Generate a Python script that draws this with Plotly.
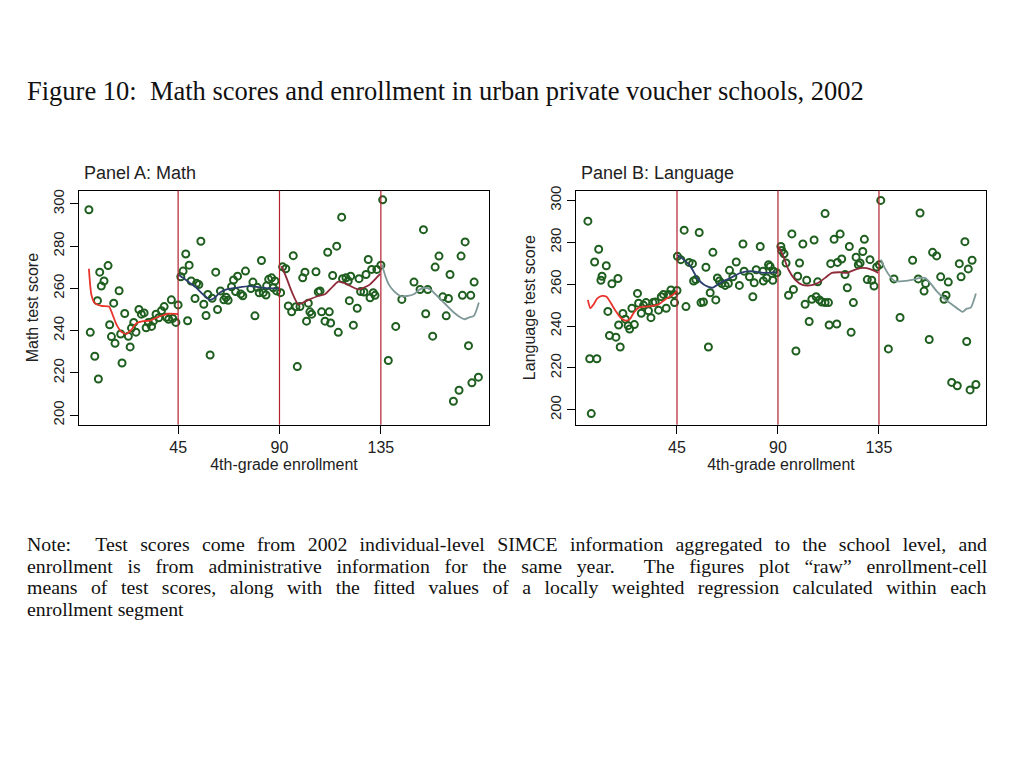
import plotly.graph_objects as go

# ---------------- data ----------------
cutoffs = [45, 90, 135]
x_ticks = [45, 90, 135]
y_ticks = [200, 220, 240, 260, 280, 300]

math_x = [5.4, 6.0, 8.0, 9.2, 9.6, 10.2, 10.9, 12.1, 13.9, 14.6, 15.4, 16.4, 17.0, 18.8, 19.5, 20.1,
          21.3, 22.9, 23.7, 24.3, 25.3, 26.3, 27.6, 28.7, 29.9, 30.8, 31.8, 33.2, 34.0, 35.2, 36.4,
          37.6, 38.8, 39.8, 40.8, 42.0, 42.6, 44.0, 45.0, 46.2, 47.2, 48.4, 49.2, 49.9, 50.8, 52.5,
          53.2, 54.2, 55.1, 56.4, 57.4, 58.2, 59.2, 60.1, 61.7, 62.5, 63.8, 65.3, 66.3, 67.2, 68.7,
          69.6, 70.5, 71.4, 72.8, 73.7, 74.9, 77.3, 78.2, 79.1, 80.1, 81.0, 82.0, 82.8, 84.0, 84.3,
          85.2, 86.5, 87.2, 88.0, 88.7, 90.5, 91.4, 92.8, 93.9, 95.4, 96.1, 97.3, 97.9, 99.1, 100.3,
          101.3, 102.0, 102.8, 103.5, 104.3, 106.2, 107.2, 108.0, 108.7, 110.2, 111.4, 112.1, 112.7,
          113.6, 115.4, 116.1, 117.6, 118.0, 119.5, 120.5, 121.0, 121.6, 122.8, 124.5, 125.3, 126.0,
          127.5, 128.4, 129.4, 130.2, 130.9, 131.6, 132.4, 133.2, 135.0, 135.8, 138.3, 141.6, 144.3,
          149.7, 152.4, 153.9, 154.9, 155.8, 158.0, 159.1, 160.8, 162.5, 164.0, 165.0, 165.7, 167.2,
          169.7, 170.6, 171.2, 172.4, 173.9, 174.9, 175.4, 176.4, 178.3]
math_y = [297.2, 239.2, 227.9, 254.2, 217.1, 267.7, 261.1, 263.5, 270.8, 242.8, 237.2, 253.0, 234.0,
          258.9, 238.4, 224.7, 248.1, 237.3, 232.3, 241.2, 243.9, 239.3, 250.0, 247.8, 248.4, 241.4,
          243.9, 242.0, 244.5, 247.8, 246.1, 249.4, 251.4, 246.3, 245.4, 254.6, 245.8, 243.9, 252.2,
          265.5, 268.2, 276.3, 244.7, 271.0, 263.5, 255.2, 262.4, 261.8, 282.3, 252.5, 247.2, 257.1,
          228.5, 255.3, 267.7, 250.0, 258.8, 254.6, 255.8, 254.4, 260.8, 264.0, 258.5, 265.8, 257.4,
          256.5, 268.2, 259.9, 263.0, 247.0, 260.5, 257.9, 273.2, 258.0, 256.9, 261.2, 264.3, 265.0,
          260.3, 263.5, 258.8, 258.0, 270.2, 269.3, 251.7, 248.9, 275.5, 251.3, 223.0, 251.4, 265.0,
          267.7, 244.5, 253.0, 248.9, 247.8, 267.9, 258.3, 258.8, 248.9, 244.5, 277.1, 248.9, 243.6,
          266.1, 280.0, 239.2, 293.7, 264.6, 265.0, 263.5, 254.2, 265.8, 242.6, 250.6, 264.6, 258.5,
          258.3, 266.6, 273.7, 255.6, 269.0, 258.0, 256.7, 269.0, 271.0, 301.9, 225.9, 242.0, 254.8,
          263.0, 259.5, 287.8, 248.0, 259.5, 237.4, 270.1, 275.3, 256.0, 247.0, 255.2, 266.6, 206.6,
          211.8, 275.3, 256.7, 282.0, 232.9, 256.7, 215.3, 263.0, 218.0]

lang_x = [5.3, 6.1, 6.8, 8.3, 9.3, 10.1, 11.1, 11.6, 13.5, 14.2, 14.9, 16.0, 17.8, 18.7, 19.0, 19.7,
          20.9, 22.0, 23.2, 23.9, 24.9, 26.0, 27.4, 27.9, 29.1, 30.1, 31.2, 32.3, 33.4, 34.3, 35.3,
          36.8, 38.0, 39.0, 40.2, 41.2, 42.3, 43.5, 43.9, 45.0, 45.2, 46.7, 48.2, 49.0, 50.4, 51.9,
          52.4, 53.4, 54.9, 55.7, 56.8, 57.9, 59.0, 59.8, 61.0, 62.3, 63.0, 63.9, 65.0, 66.5, 67.9,
          68.4, 69.9, 71.4, 72.8, 74.4, 74.9, 77.3, 78.8, 79.4, 80.3, 82.1, 83.3, 83.5, 85.0, 85.8,
          86.5, 87.7, 88.0, 89.5, 91.3, 91.7, 92.7, 93.6, 94.7, 96.2, 96.9, 98.0, 98.8, 99.6, 101.1,
          102.1, 102.8, 103.9, 105.1, 106.1, 107.0, 107.7, 108.5, 109.5, 111.0, 111.0, 112.5, 112.8,
          113.5, 115.0, 116.2, 116.5, 117.7, 118.4, 119.9, 120.9, 121.8, 122.6, 123.6, 124.8, 125.8,
          126.6, 127.8, 128.5, 129.8, 131.0, 131.8, 132.8, 134.0, 135.2, 135.8, 139.2, 141.7, 144.4,
          150.0, 152.5, 153.3, 155.1, 155.8, 157.4, 158.9, 160.7, 162.5, 164.0, 164.9, 165.9, 167.4,
          169.9, 170.8, 171.6, 173.3, 174.1, 174.8, 175.6, 176.5, 178.2]
lang_y = [290.1, 224.4, 198.2, 270.6, 224.4, 276.7, 261.9, 263.8, 268.8, 247.0, 235.5, 260.2, 234.7,
          262.7, 240.5, 230.0, 246.0, 243.3, 240.2, 238.6, 248.5, 240.7, 255.6, 250.9, 246.1, 249.9,
          251.2, 247.3, 244.0, 251.2, 251.5, 247.6, 254.0, 255.1, 248.5, 255.1, 257.2, 255.1, 251.2,
          257.0, 273.3, 271.7, 285.8, 249.3, 270.4, 269.8, 261.5, 262.2, 284.7, 251.2, 251.5, 268.1,
          230.0, 255.9, 275.2, 252.5, 263.0, 261.5, 260.3, 259.4, 260.3, 266.6, 263.5, 270.6, 259.4,
          279.2, 266.2, 263.5, 254.0, 260.7, 266.9, 278.0, 266.2, 261.5, 263.0, 269.3, 268.5, 261.9,
          266.2, 265.4, 278.0, 276.1, 274.5, 270.1, 254.7, 284.0, 257.5, 228.1, 263.8, 270.1, 279.2,
          250.4, 261.9, 242.2, 252.8, 281.1, 254.0, 261.1, 252.5, 251.5, 293.7, 251.2, 251.2, 240.5,
          269.8, 281.4, 241.0, 270.4, 284.0, 272.0, 264.6, 258.3, 278.0, 237.0, 251.2, 272.9, 269.3,
          270.1, 275.6, 281.4, 262.2, 271.7, 261.9, 259.1, 268.2, 269.3, 300.0, 229.1, 262.5, 244.1,
          271.4, 262.5, 294.0, 256.7, 260.3, 233.6, 275.2, 273.5, 263.5, 252.8, 254.7, 261.0, 213.1,
          211.5, 269.8, 263.5, 280.3, 232.6, 267.3, 209.5, 271.4, 212.1]

# locally weighted regression fits, one per enrollment segment
math_fit1_x = [5.4, 6.5, 8.0, 10.9, 14.3, 15.4, 17.6, 19.8, 22.0, 24.3, 26.5, 29.5, 32.4, 35.4, 38.4, 40.6, 45.0]
math_fit1_y = [269.3, 257.0, 253.0, 251.7, 251.4, 249.0, 243.0, 239.5, 238.5, 240.5, 243.5, 244.5, 244.7, 246.2, 247.3, 248.0, 247.8]
math_fit2_x = [45.0, 47.2, 50.1, 53.1, 56.1, 59.1, 61.3, 63.5, 66.5, 70.9, 76.8, 82.8, 88.0, 90.0]
math_fit2_y = [266.6, 265.0, 262.7, 260.3, 257.1, 254.6, 255.6, 258.0, 259.5, 260.3, 261.1, 260.3, 260.0, 259.9]
math_fit3_x = [90.9, 93.1, 95.3, 98.3, 100.5, 103.4, 107.2, 110.2, 112.4, 116.1, 119.1, 122.1, 125.0, 127.3, 130.2, 132.4, 134.7]
math_fit3_y = [270.5, 265.0, 258.8, 252.5, 253.3, 254.8, 256.4, 257.2, 259.5, 263.2, 262.4, 260.8, 259.5, 260.3, 261.9, 264.3, 266.9]
math_fit4_x = [135.5, 137.0, 138.5, 140.7, 143.7, 146.6, 149.6, 151.9, 154.8, 157.0, 160.0, 163.7, 167.4, 170.4, 172.1, 174.0, 176.3, 178.5]
math_fit4_y = [271.3, 265.8, 261.9, 258.8, 256.4, 256.4, 257.2, 259.3, 260.3, 259.5, 256.4, 252.5, 248.6, 246.2, 245.4, 246.2, 247.0, 253.3]

lang_fit1_x = [5.3, 6.4, 7.9, 9.4, 11.6, 13.6, 15.4, 17.6, 19.8, 22.1, 24.0, 25.8, 28.0, 31.0, 34.0, 36.9, 39.9, 42.9, 45.0]
lang_fit1_y = [252.5, 248.5, 250.4, 253.1, 254.4, 254.0, 251.2, 247.3, 244.1, 242.6, 243.3, 246.5, 248.8, 249.3, 249.6, 250.4, 252.8, 254.7, 256.7]
lang_fit2_x = [45.0, 48.0, 51.0, 54.0, 56.9, 60.7, 64.4, 68.9, 73.3, 77.8, 83.8, 89.5]
lang_fit2_y = [274.0, 271.7, 268.5, 263.0, 259.8, 258.3, 260.7, 263.0, 265.4, 266.2, 265.4, 265.8]
lang_fit3_x = [90.2, 92.4, 94.7, 97.6, 100.6, 104.3, 108.0, 111.0, 114.0, 117.7, 120.6, 123.6, 126.6, 129.5, 132.5, 134.7]
lang_fit3_y = [278.0, 273.3, 266.9, 262.2, 259.8, 259.4, 260.7, 263.0, 265.4, 265.7, 265.4, 266.6, 267.7, 267.7, 266.6, 265.4]
lang_fit4_x = [135.9, 137.6, 139.9, 142.1, 145.8, 150.3, 153.3, 155.5, 157.7, 160.7, 164.4, 167.4, 170.4, 172.3, 174.1, 175.9, 178.2]
lang_fit4_y = [271.7, 267.7, 263.8, 261.5, 261.5, 262.2, 263.0, 263.0, 260.7, 256.7, 252.8, 250.4, 248.0, 246.8, 248.3, 248.8, 255.6]

title_text = "Figure 10:\u00a0 Math scores and enrollment in urban private voucher schools, 2002"
note_lines = [
    "Note:\u00a0 Test scores come from 2002 individual-level SIMCE information aggregated to the school level, and",
    "enrollment is from administrative information for the same year.\u00a0 The figures plot \u201craw\u201d enrollment-cell",
    "means of test scores, along with the fitted values of a locally weighted regression calculated within each",
    "enrollment segment",
]

# ---------------- styling ----------------
PAGE_OFF = 8          # default body margin of the html page
W, H = 1024 - 2 * PAGE_OFF, 768 - 2 * PAGE_OFF
MARK = "#1e5e1e"
FIT_COLORS = ["#e8342c", "#2c3f6e", "#8e2a3a", "#7f9898"]
VLINE = "#b3202e"
SANS = "Liberation Sans, Arial, sans-serif"
SERIF = "Liberation Serif, Times New Roman, serif"
TXT = "#222"
NOTE_SIZE = 19.8
NOTE_WORD_SPACING = [7.35, 9.8, 8.5, 0.0]   # emulate the justified paragraph


def px_x(p):
    return (p - PAGE_OFF) / W


def px_y(p):
    return 1 - (p - PAGE_OFF) / H


fig = go.Figure()

panels = [
    dict(xa="x", ya="y", xd=[79, 489], xr=[1.0, 183.0], yr=[195.5, 306.3],
         px=math_x, py=math_y,
         fits=[(math_fit1_x, math_fit1_y), (math_fit2_x, math_fit2_y),
               (math_fit3_x, math_fit3_y), (math_fit4_x, math_fit4_y)],
         title="Panel A: Math", ytitle="Math test score"),
    dict(xa="x2", ya="y2", xd=[576, 986], xr=[0.0, 182.7], yr=[192.9, 304.7],
         px=lang_x, py=lang_y,
         fits=[(lang_fit1_x, lang_fit1_y), (lang_fit2_x, lang_fit2_y),
               (lang_fit3_x, lang_fit3_y), (lang_fit4_x, lang_fit4_y)],
         title="Panel B: Language", ytitle="Language test score"),
]

top_px, bot_px = 187, 423
annotations = []
shapes = []
for i, p in enumerate(panels):
    fig.add_trace(go.Scatter(
        x=p["px"], y=p["py"], mode="markers", xaxis=p["xa"], yaxis=p["ya"],
        marker=dict(symbol="circle-open", size=7, color=MARK, line=dict(width=2, color=MARK)),
        showlegend=False, hoverinfo="skip"))
    for (fx, fy), c in zip(p["fits"], FIT_COLORS):
        fig.add_trace(go.Scatter(
            x=fx, y=fy, mode="lines", xaxis=p["xa"], yaxis=p["ya"],
            line=dict(color=c, width=1.8, shape="spline", smoothing=0.6),
            showlegend=False, hoverinfo="skip"))
    for c in cutoffs:
        shapes.append(dict(type="line", xref=p["xa"], yref=p["ya"] + " domain",
                           x0=c, x1=c, y0=0, y1=1, line=dict(color=VLINE, width=1.2), layer="above"))
    sfx = "" if i == 0 else "2"
    axcommon = dict(showgrid=False, zeroline=False, showline=True, linecolor="black", linewidth=1.2,
                    mirror=True, ticks="outside", ticklen=8, tickcolor="black")
    fig.update_layout(**{
        "xaxis" + sfx: dict(domain=[px_x(p["xd"][0]), px_x(p["xd"][1])], range=p["xr"],
                            tickvals=x_ticks, anchor="y" + sfx,
                            tickfont=dict(family=SANS, size=16, color=TXT),
                            title=dict(text="4th-grade enrollment", standoff=0,
                                       font=dict(family=SANS, size=16, color=TXT)),
                            **axcommon),
        "yaxis" + sfx: dict(domain=[px_y(bot_px), px_y(top_px)], range=p["yr"],
                            tickvals=y_ticks, tickangle=-90, anchor="x" + sfx,
                            tickfont=dict(family=SANS, size=15, color=TXT),
                            title=dict(text=p["ytitle"], standoff=7,
                                       font=dict(family=SANS, size=16, color=TXT)),
                            **axcommon),
    })
    annotations.append(dict(text=p["title"], x=px_x(p["xd"][0] + 3), y=px_y(169), xref="paper", yref="paper",
                            xanchor="left", yanchor="middle", showarrow=False,
                            font=dict(family=SANS, size=18, color=TXT)))

annotations.append(dict(text=title_text, x=px_x(25), y=px_y(87), xref="paper", yref="paper",
                        xanchor="left", yanchor="middle", showarrow=False,
                        font=dict(family=SERIF, size=26.5, color="#111")))
for k, line in enumerate(note_lines):
    txt = line
    if NOTE_WORD_SPACING[k] > 0:
        txt = '<span style="word-spacing:%.2fpx">%s</span>' % (NOTE_WORD_SPACING[k], line)
    annotations.append(dict(text=txt, x=px_x(25), y=px_y(543 + 22 * k), xref="paper", yref="paper",
                            xanchor="left", yanchor="middle", showarrow=False,
                            font=dict(family=SERIF, size=NOTE_SIZE, color="#111")))

fig.update_layout(width=W, height=H, margin=dict(l=0, r=0, t=0, b=0),
                  paper_bgcolor="white", plot_bgcolor="white",
                  annotations=annotations, shapes=shapes)

fig.write_html("out.html", config={"displayModeBar": False})
